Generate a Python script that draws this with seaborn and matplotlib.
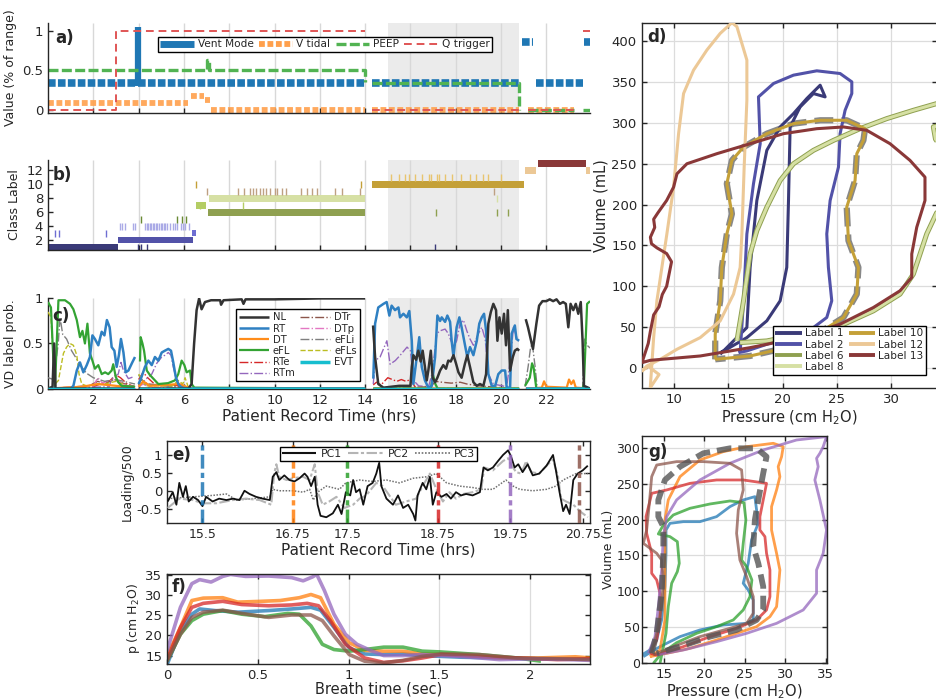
import numpy as np
import matplotlib
matplotlib.use("Agg")
import matplotlib.pyplot as plt
from matplotlib.lines import Line2D
import seaborn as sns

nan = np.nan
G = (nan, nan)  # gap between recording segments

# ---------------- a) ventilator settings (hrs, fraction of range)
a_vent_t = [0, 3.95, nan, 3.99, 14.0, nan, 14.3, 20.8, nan, 20.92, 21.42, nan, 21.55, 23.6, nan, 23.66, 23.93]
a_vent_v = [0.33, 0.33, nan, 0.33, 0.33, nan, 0.33, 0.33, nan, 0.85, 0.85, nan, 0.33, 0.33, nan, 0.85, 0.85]
a_vent_spike_t = [3.96, 3.96]
a_vent_spike_v = [0.3, 1.04]
a_vtid_t = [0, 6.2, nan, 6.3, 6.9, nan, 6.95, 7.15, nan, 7.2, 14.0, nan, 14.3, 20.8, nan, 21.2, 23.2]
a_vtid_v = [0.08, 0.08, nan, 0.17, 0.17, nan, 0.12, 0.12, nan, 0, 0, nan, 0, 0, nan, 0, 0]
a_peep_t = [0, 7.03, 7.03, 7.09, 7.09, 14.0, 14.0, nan, 14.3, 20.8, 20.8, nan, 21.2, 23.2, nan, 23.6, 23.93]
a_peep_v = [0.5, 0.5, 0.63, 0.63, 0.5, 0.5, 0.35, nan, 0.33, 0.33, 0.0, nan, 0, 0, nan, 0, 0]
a_qtrig_t = [0, 2.99, 2.99, 14.0, nan, 14.3, 20.8, nan, 21.2, 23.2, nan, 23.62, 23.93]
a_qtrig_v = [0, 0, 1, 1, nan, 0, 0, nan, 0, 0, nan, 1, 1]

shade_window = (15.0, 20.8)

# ---------------- b) class labels
label_colors = {1: "#3a3a78", 2: "#5252a8", 3: "#6e6ed2", 4: "#aaaae6", 5: "#6a8a34",
                6: "#8fa050", 7: "#b4cd64", 8: "#d6e0a4", 9: "#bea082", 10: "#c4a038",
                11: "#e8c46e", 12: "#ecc896", 13: "#8a3838"}
b_bar_label = [1, 2, 3, 7, 8, 6, 10, 12, 13, 12]
b_bar_start = [0.0, 3.08, 6.36, 6.53, 7.1, 7.05, 14.3, 21.07, 21.61, 23.76]
b_bar_end = [3.08, 6.39, 6.53, 6.98, 14.0, 14.0, 21.0, 21.54, 23.76, 23.93]
b_ticks_1 = [3.98, 4.1, 4.37, 17.1]
b_ticks_3 = [0.3, 0.5, 2.54]
b_ticks_4 = [3.17, 3.27, 3.39, 3.73, 3.85, 4.29, 4.36, 4.42, 4.49, 4.56, 4.63, 4.69, 4.76, 4.83,
             4.9, 4.97, 5.03, 5.1, 5.17, 5.27, 5.37, 5.51, 5.61, 5.71, 5.85, 5.95, 6.05, 6.22]
b_ticks_5 = [4.12, 5.71, 5.93, 6.1]
b_ticks_6 = [17.12, 19.83, 20.31]
b_ticks_7 = [6.69, 8.61]
b_ticks_8 = [19.83]
b_ticks_9 = [7.03, 8.39, 8.64, 8.93, 9.07, 9.2, 9.36, 9.49, 9.63, 9.78, 10.02, 10.12, 10.34,
             10.51, 11.19, 11.44, 11.66, 11.86, 12.68, 12.97, 13.78, 19.69]
b_ticks_10 = [6.53, 13.8]
b_ticks_11 = [15.14, 15.51, 15.76, 15.93, 16.22, 16.53, 16.81, 16.9, 17.17, 17.24, 17.54,
              17.85, 18.22, 18.64, 18.9, 19.2, 19.41, 20.0]

# ---------------- c) VD label probabilities (hrs, prob)
c_nl = [(0, 0), (0.2, 0.02), (0.27, 0.5), (0.33, 0.0), (3.8, 0.0), G, (4.0, 0.0), (6.2, 0.0),
        (6.34, 0.05), (6.45, 0.5), (6.56, 0.87), (6.67, 1.0), (6.78, 0.88), (6.93, 0.96), (7.2, 0.98),
        (7.6, 0.98), (7.64, 0.93), (7.75, 0.98), (8.55, 0.99), (8.63, 0.94), (8.72, 0.99), (10, 0.99),
        (12, 1.0), (14, 1.0), G, (14.35, 0.7), (14.44, 0.35), (14.58, 0.05), (14.81, 0.01), (15.5, 0.03),
        (16.0, 0.03), (16.06, 0.24), (16.13, 0.37), (16.25, 0.32), (16.35, 0.42), (16.45, 0.3),
        (16.54, 0.42), (16.64, 0.24), (16.72, 0.09), (16.79, 0.2), (16.9, 0.42), (16.98, 0.12),
        (17.09, 0.07), (17.19, 0.12), (17.31, 0.2), (17.45, 0.26), (17.57, 0.22), (17.67, 0.31),
        (17.78, 0.3), (17.9, 0.37), (18.01, 0.28), (18.12, 0.18), (18.26, 0.12), (18.41, 0.28),
        (18.51, 0.37), (18.63, 0.24), (18.78, 0.07), (18.93, 0.03), (19.07, 0.05), (19.22, 0.03),
        (19.34, 0.16), (19.44, 0.72), (19.55, 0.85), (19.66, 0.94), (19.78, 0.87), (19.84, 0.53),
        (19.93, 0.79), (20.03, 0.61), (20.13, 0.83), (20.22, 0.48), (20.3, 0.87), (20.4, 0.2),
        (20.52, 0.35), (20.61, 0.42), (20.72, 0.44), (20.8, 0.42), G, (21.09, 0.77), (21.19, 0.68),
        (21.29, 0.57), (21.41, 0.44), (21.56, 0.72), (21.68, 0.92), (21.83, 0.97), (22.0, 0.97),
        (22.15, 0.99), (22.3, 0.97), (22.45, 0.99), (22.6, 0.94), (22.74, 0.96), (22.86, 0.94),
        (22.97, 0.68), (23.07, 0.94), (23.19, 0.87), (23.3, 0.94), (23.41, 0.83), (23.52, 0.96),
        (23.6, 0.53), (23.66, 0.03), (23.93, 0.0)]
c_rt = [(0, 0), (1.0, 0.0), (1.12, 0.03), (1.27, 0.2), (1.41, 0.29), (1.56, 0.18), (1.71, 0.26),
        (1.85, 0.35), (1.96, 0.59), (2.07, 0.55), (2.22, 0.48), (2.37, 0.63), (2.49, 0.59), (2.6, 0.76),
        (2.72, 0.68), (2.81, 0.46), (2.93, 0.42), (3.03, 0.24), (3.13, 0.37), (3.22, 0.55), (3.33, 0.4),
        (3.43, 0.18), (3.55, 0.2), (3.72, 0.29), (3.84, 0.35), G, (4.0, 0.05), (4.13, 0.13), (4.28, 0.24),
        (4.43, 0.31), (4.58, 0.26), (4.72, 0.35), (4.87, 0.31), (5.02, 0.4), (5.16, 0.42), (5.31, 0.44),
        (5.43, 0.42), (5.53, 0.29), (5.64, 0.13), (5.75, 0.05), (5.9, 0.01), (6.2, 0.0), (14, 0.0), G,
        (14.36, 0.11), (14.44, 0.72), (14.58, 0.9), (14.81, 0.94), (14.95, 0.96), (15.07, 0.81),
        (15.17, 0.92), (15.32, 0.87), (15.47, 0.9), (15.54, 0.79), (15.69, 0.83), (15.84, 0.79),
        (15.95, 0.86), (16.06, 0.53), (16.13, 0.05), (16.28, 0.35), (16.39, 0.57), (16.5, 0.24),
        (16.64, 0.09), (16.79, 0.01), (16.94, 0.03), (17.09, 0.35), (17.19, 0.81), (17.31, 0.75),
        (17.38, 0.79), (17.53, 0.74), (17.63, 0.81), (17.75, 0.74), (17.82, 0.53), (17.9, 0.35),
        (18.04, 0.68), (18.16, 0.79), (18.26, 0.68), (18.41, 0.48), (18.51, 0.35), (18.63, 0.46),
        (18.78, 0.37), (18.93, 0.53), (19.04, 0.72), (19.15, 0.79), (19.25, 0.83), (19.34, 0.64),
        (19.44, 0.16), (19.59, 0.03), (19.74, 0.03), (19.88, 0.16), (20.03, 0.2), (20.18, 0.2),
        (20.25, 0.01), (20.4, 0.01), (20.47, 0.61), (20.61, 0.7), (20.68, 0.55), (20.8, 0.53), G,
        (21.1, 0.0), (23.93, 0.0)]
c_dt = [(0, 0), (1.5, 0.02), (2.2, 0.05), (3.0, 0.03), (3.84, 0.01), G, (4.0, 0.02), (4.2, 0.08),
        (4.5, 0.03), (5.8, 0.05), (6.3, 0), (14, 0), G, (14.36, 0), (20.8, 0), G, (21.1, 0), (21.8, 0.01),
        (21.9, 0.08), (22.0, 0.02), (22.9, 0.01), (23.0, 0.1), (23.1, 0.05), (23.2, 0.09), (23.3, 0.01),
        (23.93, 0)]
c_efl = [(0, 0.96), (0.13, 0.9), (0.23, 0.35), (0.31, 0.03), (0.4, 0.6), (0.46, 0.98), (0.75, 0.98),
         (0.97, 0.94), (1.12, 0.88), (1.27, 0.76), (1.41, 0.57), (1.52, 0.64), (1.63, 0.5), (1.74, 0.72),
         (1.85, 0.39), (1.96, 0.31), (2.07, 0.22), (2.22, 0.26), (2.37, 0.16), (2.52, 0.18), (2.66, 0.16),
         (2.81, 0.2), (2.88, 0.27), (2.99, 0.13), (3.1, 0.07), (3.25, 0.03), (3.84, 0.02), G, (4.06, 0.3),
         (4.09, 0.57), (4.17, 0.5), (4.24, 0.42), (4.36, 0.2), (4.5, 0.15), (4.87, 0.05), (5.3, 0.06),
         (5.6, 0.09), (5.75, 0.16), (5.9, 0.31), (6.02, 0.26), (6.12, 0.18), (6.27, 0.2), (6.34, 0.05),
         (6.46, 0.01), (14, 0.0), G, (14.36, 0.0), (16.9, 0.0), (17.0, 0.15), (17.1, 0.05), (17.2, 0.0),
         (20.8, 0.0), G, (21.06, 0.03), (21.27, 0.12), (21.37, 0.28), (21.44, 0.23), (21.56, 0.0),
         (23.6, 0.0), (23.66, 0.05), (23.8, 0.94), (23.93, 0.97)]
c_rte = [(0, 0), (1.8, 0.0), (2.0, 0.02), (2.3, 0.05), (2.7, 0.08), (3.0, 0.15), (3.2, 0.12),
         (3.5, 0.05), (3.84, 0.02), G, (4.0, 0.1), (4.2, 0.18), (4.4, 0.12), (4.7, 0.05), (5.0, 0.03),
         (5.5, 0.04), (6.0, 0.02), (6.3, 0), (14, 0), G, (14.36, 0.04), (14.5, 0.07), (14.7, 0.04),
         (15.0, 0.12), (15.2, 0.1), (15.4, 0.08), (15.6, 0.1), (15.8, 0.08), (16.0, 0.1), (16.2, 0.02),
         (16.4, 0), (20.8, 0), G, (21.1, 0), (23.93, 0)]
c_rtm = [(0, 0), (2.7, 0.02), (2.81, 0.11), (3.1, 0.16), (3.22, 0.29), (3.33, 0.2), (3.55, 0.11),
         (3.77, 0.13), G, (4.0, 0.02), (4.3, 0.1), (4.58, 0.16), (4.8, 0.28), (5.02, 0.35), (5.16, 0.37),
         (5.31, 0.4), (5.43, 0.37), (5.53, 0.24), (5.68, 0.09), (5.9, 0.01), (14, 0), G, (14.36, 0.05),
         (14.44, 0.31), (14.66, 0.35), (14.96, 0.53), (15.1, 0.27), (15.33, 0.31), (15.55, 0.37),
         (15.85, 0.46), (16.0, 0.42), (16.14, 0.09), (16.36, 0.03), (16.8, 0.02), (16.95, 0.16),
         (17.17, 0.61), (17.3, 0.64), (17.53, 0.66), (17.67, 0.61), (17.9, 0.46), (18.04, 0.53),
         (18.19, 0.72), (18.34, 0.76), (18.49, 0.64), (18.63, 0.55), (18.78, 0.48), (19.0, 0.61),
         (19.15, 0.68), (19.3, 0.55), (19.44, 0.16), (19.66, 0.05), (20.25, 0.02), (20.4, 0.3),
         (20.55, 0.68), (20.69, 0.57), (20.8, 0.51), G, (21.1, 0), (23.93, 0)]
c_dtr = [(0, 0), (1.8, 0.03), (2.2, 0.08), (2.5, 0.05), (2.9, 0.1), (3.3, 0.06), (3.84, 0.02), G,
         (4.0, 0.04), (4.1, 0.1), (4.4, 0.05), (5.5, 0.03), (6.0, 0.02), (6.3, 0), (14, 0), G, (14.36, 0),
         (16.9, 0.02), (17.1, 0.08), (17.4, 0.07), (17.8, 0.06), (18.2, 0.07), (18.5, 0.05), (19.0, 0.03),
         (19.5, 0.02), (20.0, 0.01), (20.8, 0), G, (21.1, 0), (23.93, 0)]
c_dtp = [(0, 0), (2.0, 0.03), (2.2, 0.12), (2.4, 0.06), (2.6, 0.08), (3.0, 0.1), (3.4, 0.04),
         (3.84, 0.02), G, (4.0, 0.02), (4.2, 0.05), (4.5, 0.01), (14, 0), G, (14.36, 0), (20.8, 0), G,
         (21.1, 0), (23.93, 0)]
c_efli = [(0, 0.12), (0.25, 0.1), (0.45, 0.5), (0.53, 0.79), (0.65, 0.6), (0.82, 0.55), (1.04, 0.42),
          (1.26, 0.33), (1.48, 0.24), (1.7, 0.17), (2.0, 0.12), (2.5, 0.08), (3.0, 0.1), (3.84, 0.05), G,
          (4.0, 0.15), (4.3, 0.05), (6.3, 0.0), (14, 0.0), G, (14.36, 0.0), (20.8, 0.0), G, (21.06, 0.02),
          (21.2, 0.25), (21.3, 0.45), (21.38, 0.5), (21.5, 0.25), (21.6, 0.0), (23.6, 0.0), (23.7, 0.55),
          (23.8, 0.48), (23.93, 0.45)]
c_efls = [(0, 0.85), (0.13, 0.79), (0.23, 0.35), (0.31, 0.05), (0.46, 0.09), (0.57, 0.24), (0.68, 0.39),
          (0.82, 0.46), (0.97, 0.5), (1.12, 0.48), (1.27, 0.37), (1.37, 0.16), (1.49, 0.05), (1.7, 0.03),
          (2.5, 0.05), (3.0, 0.08), (3.5, 0.03), (3.84, 0.02), G, (4.0, 0.16), (4.15, 0.1), (4.3, 0.03),
          (5.5, 0.03), (5.75, 0.09), (5.95, 0.05), (6.05, 0.12), (6.2, 0.01), (14, 0), G, (14.36, 0),
          (20.8, 0), G, (21.1, 0), (23.93, 0)]
c_evt = [(0, 0), (3.84, 0), G, (4.0, 0), (14, 0), G, (14.36, 0), (20.8, 0), G, (21.1, 0), (23.93, 0)]

# ---------------- d) PV loops per label (cm H2O, mL)
d_label1 = [(14.24, 16.8), (16.7, 49.5), (17.0, 123.1), (17.62, 204.9), (18.54, 266.3), (19.77, 294.9),
            (21.0, 311.2), (22.23, 329.7), (23.46, 346), (23.92, 331.7), (22.84, 335.8), (21.61, 319.4),
            (20.69, 294.9), (20.54, 204.9), (20.38, 123.1), (19.77, 82.2), (18.54, 57.7), (16.7, 37.2),
            (14.85, 22.9), (14.24, 18.8)]
d_label2 = [(16.08, 18.8), (16.39, 82.2), (16.7, 164), (17.31, 225.4), (17.93, 274.4), (17.77, 331.7),
            (19.16, 348.1), (21.0, 358.3), (23.15, 363.6), (25.3, 360.3), (26.38, 350.1), (26.38, 335.8),
            (25.76, 315.3), (25.3, 286.7), (25.15, 245.8), (24.38, 204.9), (24.07, 164), (24.22, 123.1),
            (24.53, 82.2), (24.07, 61.8), (22.84, 49.5), (20.38, 37.2), (18.54, 29), (16.7, 20.9),
            (15.93, 18.8)]
d_label8 = [(15.78, 33.1), (16.39, 82.2), (17.0, 139.5), (17.62, 168.1), (18.54, 196.7), (19.77, 229.4),
            (21.0, 249.9), (22.84, 266.3), (24.69, 278.5), (27.14, 292.8), (29.6, 305.1), (32.06, 315.3),
            (34.21, 323.5), (35.5, 326), (35.5, 300), (33.9, 295), (34.1, 280), (35.5, 255), (35.5, 200),
            (34.21, 190), (33.29, 164), (32.06, 114.9), (30.83, 90.4), (28.37, 69.9), (25.3, 51.5),
            (21.61, 41.3), (18.54, 33.1), (16.08, 31.1)]
d_label10 = [(13.78, 10.6), (13.78, 41.3), (14.24, 82.2), (14.39, 123.1), (14.85, 164), (15.32, 188.5),
             (14.85, 225.4), (15.32, 254), (16.39, 270.3), (18.54, 286.7), (21.0, 299), (23.46, 303.1),
             (25.91, 303.1), (27.6, 292.8), (27.45, 278.5), (26.84, 262.2), (26.68, 229.4), (25.91, 196.7),
             (26.07, 155.8), (26.99, 123.1), (26.84, 90.4), (25.61, 61.8), (23.15, 41.3), (20.38, 24.9),
             (17.0, 14.7), (13.78, 10.6)]
d_label12 = [(7.79, -24.1), (8.1, 37.2), (8.4, 82.2), (8.86, 123.1), (9.32, 164), (9.94, 221.3),
             (10.4, 286.7), (10.86, 335.8), (11.78, 364.4), (13.01, 389), (14.24, 409.4), (15.32, 422.5),
             (15.78, 417.6), (16.24, 397.1), (16.7, 376.7), (16.7, 327.6), (16.45, 245.8), (16.24, 164),
             (16.08, 123.1), (15.47, 90.4), (14.24, 57.7), (12.4, 37.2), (10.25, 22.9), (8.71, 10.6),
             (7.48, 2.5), (7.02, -3.7), (7.6, 2), (8.6, -8), (7.79, -24.1)]
d_label13 = [(7.02, 6.5), (7.6, 30), (7.8, 45), (8.1, 65), (8.6, 75), (8.9, 90), (9.3, 100), (9.6, 120),
             (9.75, 130), (9.3, 140), (8.4, 147), (7.9, 152), (7.8, 160), (8.2, 172), (8.1, 182),
             (8.5, 190), (9.3, 205), (9.94, 221.3), (10.25, 237.6), (11.17, 249.9), (13.93, 262.2),
             (17.0, 274.4), (20.08, 286.7), (23.15, 292.8), (25.61, 294.9), (27.76, 290.8), (29.91, 274.4),
             (31.75, 254), (33.13, 233.5), (33.13, 204.9), (32.37, 172.2), (31.91, 139.5), (31.91, 110.8),
             (30.83, 94.5), (28.37, 74), (25.3, 53.6), (21.61, 37.2), (17.0, 24.9), (12.4, 14.7),
             (7.79, 9.4), (7.02, 6.5)]

# ---------------- e) principal component loadings (hrs, loading/500)
e_pc1 = [(15.02, -0.3), (15.09, -0.04), (15.14, -0.39), (15.18, 0.22), (15.23, -0.17), (15.27, 0.13),
         (15.31, -0.3), (15.37, -0.17), (15.44, -0.26), (15.5, -0.43), (15.55, -0.17), (15.64, -0.3),
         (15.73, -0.22), (15.83, -0.26), (15.92, -0.22), (16.01, -0.26), (16.08, 0.0), (16.15, -0.09),
         (16.24, -0.17), (16.33, -0.22), (16.43, -0.26), (16.47, 0.39), (16.52, 0.52), (16.56, 0.3),
         (16.63, 0.43), (16.7, 0.3), (16.77, 0.26), (16.84, 0.35), (16.91, 0.48), (16.95, 0.39),
         (17.0, 0.13), (17.05, 0.39), (17.09, -0.39), (17.13, -0.7), (17.21, -0.74), (17.3, -0.63),
         (17.37, -0.39), (17.42, -0.65), (17.48, -0.04), (17.54, -0.13), (17.58, 0.3), (17.62, -0.04),
         (17.67, 0.04), (17.72, -0.39), (17.78, 0.13), (17.85, 0.22), (17.9, 0.48), (17.94, 0.78),
         (17.97, 0.13), (18.04, -0.22), (18.13, -0.39), (18.2, -0.13), (18.27, -0.48), (18.34, -0.39),
         (18.41, -0.65), (18.44, -0.83), (18.47, -0.13), (18.54, 0.22), (18.59, 0.04), (18.64, 0.39),
         (18.68, -0.39), (18.73, -0.04), (18.8, -0.17), (18.87, -0.09), (18.93, -0.22), (19.0, -0.04),
         (19.07, -0.13), (19.14, -0.09), (19.23, -0.13), (19.33, -0.04), (19.38, 0.65), (19.44, 0.57),
         (19.51, 0.65), (19.58, 0.83), (19.65, 1.0), (19.72, 1.13), (19.76, 0.96), (19.81, 0.65),
         (19.86, 0.74), (19.92, 0.52), (19.99, 0.74), (20.06, 0.43), (20.15, 0.48), (20.25, 0.7),
         (20.34, 1.0), (20.38, 0.57), (20.43, -0.04), (20.48, -0.57), (20.52, -0.39), (20.57, -0.65),
         (20.62, 0.3), (20.68, 0.48), (20.75, 0.57), (20.82, 0.7)]
e_pc2 = [(15.02, -0.48), (15.18, -0.22), (15.37, -0.26), (15.5, -0.35), (15.69, -0.35), (15.92, -0.26),
         (16.1, -0.22), (16.29, -0.26), (16.45, -0.39), (16.49, 0.48), (16.52, 0.74), (16.56, 0.39),
         (16.66, 0.3), (16.75, 0.35), (16.89, 0.39), (16.98, 0.3), (17.05, 0.74), (17.09, -0.04),
         (17.16, -0.39), (17.25, -0.3), (17.35, -0.17), (17.46, -0.48), (17.58, -0.39), (17.67, -0.22),
         (17.76, -0.13), (17.9, 0.22), (17.99, 0.13), (18.08, -0.13), (18.17, -0.39), (18.31, -0.3),
         (18.45, -0.22), (18.54, 0.13), (18.64, 0.48), (18.73, 0.04), (18.82, -0.3), (18.91, -0.04),
         (19.0, -0.22), (19.1, -0.09), (19.23, -0.04), (19.35, 0.04), (19.39, 0.65), (19.51, 0.57),
         (19.65, 0.83), (19.72, 0.91), (19.76, 0.74), (19.83, 0.52), (19.9, 0.48), (19.97, 0.83),
         (20.04, 0.52), (20.15, 0.48), (20.27, 0.74), (20.34, 0.87), (20.41, 0.39), (20.45, -0.22),
         (20.52, -0.3), (20.62, -0.39), (20.71, -0.57), (20.82, -0.74)]
e_pc3 = [(15.02, -0.22), (15.37, -0.17), (15.64, -0.13), (15.83, -0.09), (15.97, -0.26), (16.2, -0.22),
         (16.43, -0.17), (16.47, 0.04), (16.56, 0.0), (16.75, 0.0), (16.89, -0.04), (16.98, 0.04),
         (17.03, -0.26), (17.09, -0.04), (17.21, 0.13), (17.39, 0.04), (17.48, 0.22), (17.67, 0.3),
         (17.85, 0.26), (18.04, 0.3), (18.22, 0.22), (18.41, 0.35), (18.59, 0.39), (18.73, 0.48),
         (18.87, 0.22), (19.05, 0.13), (19.23, 0.09), (19.37, 0.04), (19.51, 0.04), (19.69, 0.3),
         (19.79, 0.13), (19.88, 0.04), (20.06, 0.0), (20.25, 0.04), (20.38, 0.13), (20.48, 0.3),
         (20.66, 0.48), (20.82, 0.48)]
event_times = [15.5, 16.75, 17.5, 18.75, 19.75, 20.7]
event_colors = ["#1f77b4", "#ff7f0e", "#2ca02c", "#d62728", "#9467bd", "#8c564b"]
e_tick_labels = ["15.5", "16.75", "17.5", "18.75", "19.75", "20.75"]

# ---------------- f) pressure per selected breath (sec, cm H2O)
f_blue = [(0, 12.7), (0.074, 21.1), (0.137, 25.3), (0.18, 26.6), (0.264, 26.2), (0.39, 25.8), (0.56, 26.2),
          (0.687, 26.6), (0.793, 27), (0.846, 26.3), (0.92, 22), (1.004, 16.9), (1.089, 15.4),
          (1.194, 15.25), (1.3, 15.4), (1.406, 15.0), (1.617, 14.6), (1.83, 14.4), (2.04, 14.2), (2.336, 14.2)]
f_orange = [(0, 14.8), (0.074, 22), (0.137, 28.7), (0.2, 29.3), (0.307, 29.4), (0.39, 28.3), (0.518, 28.5),
            (0.624, 28.7), (0.729, 29.4), (0.793, 30.2), (0.846, 29.4), (0.92, 22.8), (1.004, 18.2),
            (1.089, 16.3), (1.194, 16.1), (1.3, 16.1), (1.406, 15.4), (1.617, 15.25), (1.83, 14.4),
            (2.04, 14.4), (2.25, 14.7), (2.336, 14.4)]
f_green = [(0, 13.6), (0.074, 20.3), (0.137, 23.7), (0.2, 25.3), (0.307, 26.2), (0.412, 25.3), (0.539, 24.7),
           (0.666, 25.5), (0.729, 25.3), (0.793, 22.4), (0.856, 17.8), (0.92, 16.5), (1.004, 16.1),
           (1.089, 16.5), (1.194, 17.1), (1.3, 17.1), (1.406, 16.1), (1.51, 15.9), (1.72, 15.25),
           (1.93, 14.4), (2.06, 13.6)]
f_red = [(0, 14), (0.074, 22), (0.137, 27), (0.2, 28), (0.307, 28.5), (0.412, 27.7), (0.56, 27.4),
         (0.687, 27.6), (0.772, 28), (0.835, 27.4), (0.9, 23.7), (0.983, 17.8), (1.089, 14.4), (1.194, 13.3),
         (1.3, 13.7), (1.406, 14.4), (1.51, 15.25), (1.72, 14.8), (1.93, 14.4), (2.15, 14), (2.336, 14.2)]
f_purple = [(0, 16.1), (0.074, 27), (0.137, 32.9), (0.18, 33.9), (0.243, 33.3), (0.307, 34.7), (0.35, 35.2),
            (0.433, 34.7), (0.56, 34.8), (0.687, 34.4), (0.75, 33.6), (0.803, 34.6), (0.825, 35.2),
            (0.867, 31.2), (0.92, 25.3), (0.983, 20.3), (1.047, 17.8), (1.131, 16.1), (1.194, 15.0),
            (1.3, 15.0), (1.406, 15.25), (1.617, 14.8), (1.83, 14.0), (2.04, 14.2), (2.21, 14.0), (2.336, 13.8)]
f_brown = [(0, 13.6), (0.074, 20.3), (0.137, 24.5), (0.2, 25.8), (0.307, 26.3), (0.412, 25.5), (0.56, 24.5),
           (0.687, 25.1), (0.793, 25.1), (0.856, 23.7), (0.92, 19.9), (1.004, 15.25), (1.089, 13.6),
           (1.194, 13.2), (1.3, 13.8), (1.406, 14.8), (1.51, 15.4), (1.72, 15.25), (1.93, 14.4),
           (2.15, 14.2), (2.336, 14)]

# ---------------- g) PV loops of the same breaths (cm H2O, mL)
g_blue = [(12.24, 11.6), (13.27, 18.5), (14.1, 32.5), (14.71, 60.3), (15.12, 106.6), (15.25, 153),
          (15.25, 185.4), (15.74, 194.7), (17.39, 197), (19.44, 197), (21.5, 204), (23.15, 217.9),
          (24.79, 227.2), (26.23, 231.8), (26.44, 213.3), (26.65, 194.7), (25.82, 171.5), (25.41, 139.1),
          (24.79, 111.3), (25.41, 102), (26.03, 88.1), (26.03, 60.3), (25.21, 55.6), (22.33, 53.3),
          (19.44, 46.4), (16.98, 37.1), (14.51, 23.2), (12.45, 9.3)]
g_orange = [(13.27, 9.3), (14.51, 18.5), (15.12, 60.3), (15.12, 106.6), (15.12, 153), (15.12, 199.4),
            (15.53, 227.2), (16.98, 259.6), (19.44, 282.8), (22.33, 294.4), (25.21, 301.3), (28.5, 306),
            (29.73, 301.3), (29.53, 287.4), (29.11, 273.5), (29.32, 259.6), (28.91, 241.1), (28.29, 217.9),
            (28.29, 185.4), (28.91, 153), (29.32, 129.8), (29.11, 102), (28.91, 78.8), (28.09, 64.9),
            (26.44, 51), (23.97, 41.7), (21.5, 32.5), (18.21, 20.9), (15.33, 13.9), (13.27, 9.3)]
g_green = [(14.51, 0), (15.25, 41.7), (15.53, 78.8), (15.95, 111.3), (16.65, 127.5), (16.89, 139.1),
           (16.65, 169.2), (15.74, 176.2), (14.3, 179.9), (14.92, 192.4), (16.15, 206.3), (18.21, 215.6),
           (20.68, 221.6), (23.15, 225.8), (24.88, 223.5), (25.12, 199.4), (24.79, 166.9), (24.59, 143.7),
           (25.21, 134.4), (25.86, 115.9), (25.62, 92.7), (24.79, 74.2), (23.56, 60.3), (21.5, 51),
           (19.03, 41.7), (16.56, 28.7), (14.71, 13.9), (13.68, 0)]
g_red = [(13.27, 13.9), (14.1, 32.5), (14.51, 60.3), (14.51, 97.4), (14.1, 115.9), (13.48, 125.2),
         (13.48, 153), (12.86, 180.8), (12.78, 204), (13.19, 222.5), (13.48, 236.4), (15.33, 241.1),
         (18.21, 250.3), (21.5, 255), (24.79, 255), (27.67, 250.3), (27.26, 227.2), (26.85, 204),
         (26.85, 185.4), (27.47, 176.2), (27.67, 153), (28.09, 129.8), (28.09, 92.7), (27.67, 74.2),
         (26.44, 60.3), (23.97, 48.7), (20.68, 37.1), (17.39, 23.2), (14.1, 11.6), (13.27, 13.9)]
g_purple = [(13.07, 13.9), (13.89, 37.1), (14.3, 78.8), (14.71, 129.8), (14.92, 176.2), (15.33, 204),
            (16.56, 227.2), (19.44, 255), (23.15, 278.2), (27.26, 296.7), (31.38, 310.6), (35.08, 315.3),
            (34.67, 301.3), (34.26, 292.1), (33.85, 285.1), (34.05, 273.5), (33.64, 255), (34.26, 227.2),
            (35.08, 185.4), (34.67, 153), (33.85, 129.8), (33.85, 97.4), (32.2, 74.2), (28.91, 55.6),
            (25.21, 41.7), (21.5, 30.1), (17.39, 18.5), (14.1, 11.6)]
g_brown = [(13.48, 13.9), (14.1, 41.7), (14.71, 78.8), (14.92, 115.9), (14.71, 143.7), (14.1, 153),
           (12.45, 166.9), (12.86, 185.4), (13.19, 222.5), (13.48, 259.6), (14.1, 275.8), (16.56, 280.5),
           (19.86, 280.5), (23.15, 278.2), (24.59, 268.9), (24.79, 241.1), (24.18, 213.3), (23.97, 180.8),
           (24.38, 143.7), (25.21, 120.5), (26.03, 92.7), (26.03, 69.5), (25.21, 55.6), (23.15, 48.7),
           (19.44, 37.1), (16.15, 23.2), (13.68, 11.6)]
g_mean = [(13.48, 13.9), (14.1, 41.7), (14.71, 97.4), (14.92, 153), (14.92, 190.1), (14.3, 204),
          (14.3, 227.2), (15.12, 255), (16.98, 273.5), (19.86, 292.1), (23.15, 299), (26.44, 299),
          (27.67, 287.4), (27.26, 264.3), (26.65, 227.2), (26.23, 199.4), (26.03, 162.3), (26.65, 139.1),
          (27.26, 106.6), (27.26, 74.2), (26.44, 60.3), (23.97, 46.4), (20.68, 37.1), (16.98, 23.2),
          (14.1, 13.9)]


def xy(pairs):
    arr = np.array(pairs, dtype=float)
    return arr[:, 0], arr[:, 1]


def boxed(leg):
    leg.get_frame().set_edgecolor("black")
    leg.get_frame().set_linewidth(1.0)
    leg.set_zorder(10)


sns.set_theme(style="white")
plt.rcParams.update({
    "font.family": ["DejaVu Sans"],
    "xtick.direction": "in", "ytick.direction": "in",
    "xtick.bottom": True, "ytick.left": True,
    "xtick.major.size": 3.5, "ytick.major.size": 3.5,
    "xtick.major.width": 1.0, "ytick.major.width": 1.0,
    "xtick.color": "#262626", "ytick.color": "#262626",
    "axes.edgecolor": "#262626", "axes.linewidth": 1.0,
    "axes.labelcolor": "#262626",
    "xtick.labelsize": 9.5, "ytick.labelsize": 9.5, "axes.labelsize": 9.5,
    "grid.color": "#dcdcdc", "grid.linewidth": 0.9,
    "lines.solid_capstyle": "butt", "lines.dash_capstyle": "butt",
    "legend.fontsize": 7.5,
})

fig = plt.figure(figsize=(9.36, 7.0), dpi=100)
ax_a = fig.add_axes([0.0513, 0.839, 0.5791, 0.1286])
ax_b = fig.add_axes([0.0513, 0.643, 0.5791, 0.1286])
ax_c = fig.add_axes([0.0513, 0.4443, 0.5791, 0.13])
ax_d = fig.add_axes([0.6856, 0.4457, 0.3156, 0.5219])
ax_e = fig.add_axes([0.1784, 0.2529, 0.4519, 0.1171])
ax_f = fig.add_axes([0.1784, 0.0514, 0.4519, 0.1286])
ax_g = fig.add_axes([0.6856, 0.0524, 0.1976, 0.3251])


def panel_letter(ax, txt, x, y):
    ax.text(x, y, txt, transform=ax.transAxes, fontsize=12, fontweight="bold",
            va="center", ha="left", zorder=10)


hour_ticks = np.arange(2, 23, 2)
for ax in (ax_a, ax_b, ax_c):
    ax.axvspan(*shade_window, color="#ebebeb", zorder=0.2, lw=0)
    ax.set_xlim(0, 23.93)
    ax.set_xticks(hour_ticks)
    ax.grid(axis="x", color="#d8d8d8", lw=1.0)
    ax.set_axisbelow(True)
    sns.despine(ax=ax)
ax_a.tick_params(labelbottom=False)
ax_b.tick_params(labelbottom=False)

# a)
ax_a.plot(a_vent_t, a_vent_v, color="#1f77b4", lw=5.5, ls=(0, (1.0, 0.3)))
ax_a.plot(a_vent_spike_t, a_vent_spike_v, color="#1f77b4", lw=4.5)
ax_a.plot(a_vtid_t, a_vtid_v, color="#ffa04c", lw=4.2, ls=(0, (1.0, 0.45)), alpha=0.9)
ax_a.plot(a_peep_t, a_peep_v, color="#52b352", lw=2.4, ls=(0, (3, 1)))
ax_a.plot(a_qtrig_t, a_qtrig_v, color="#e05555", lw=1.4, ls=(0, (4, 2.5)))
ax_a.set_ylim(-0.04, 1.1)
ax_a.set_yticks([0, 0.5, 1])
ax_a.set_yticklabels(["0", "0.5", "1"])
ax_a.set_ylabel("Value (% of range)", fontsize=9)
a_handles = [Line2D([], [], color="#1f77b4", lw=5),
             Line2D([], [], color="#ffa04c", lw=4.2, ls=(0, (1.0, 0.45))),
             Line2D([], [], color="#52b352", lw=2.4, ls=(0, (3, 1))),
             Line2D([], [], color="#e05555", lw=1.4, ls=(0, (4, 2.5)))]
leg = ax_a.legend(a_handles, ["Vent Mode", "V tidal", "PEEP", "Q trigger"], ncol=4, loc="center",
                  bbox_to_anchor=(0.511, 0.758), fancybox=False, framealpha=1, borderpad=0.25,
                  handlelength=3.2, handletextpad=0.35, columnspacing=0.5, fontsize=7.6)
boxed(leg)
panel_letter(ax_a, "a)", 0.013, 0.83)

# b)
ax_b.barh(b_bar_label, np.subtract(b_bar_end, b_bar_start), left=b_bar_start, height=0.95,
          color=[label_colors[k] for k in b_bar_label], lw=0, zorder=2)
b_tick_sets = [(1, b_ticks_1), (3, b_ticks_3), (4, b_ticks_4), (5, b_ticks_5), (6, b_ticks_6),
               (7, b_ticks_7), (8, b_ticks_8), (9, b_ticks_9), (10, b_ticks_10), (11, b_ticks_11)]
for lab, pos in b_tick_sets:
    ax_b.vlines(pos, lab - 0.5, lab + 0.5, colors=label_colors[lab], lw=1.0, zorder=2)
ax_b.set_ylim(0.6, 13.5)
ax_b.set_yticks([2, 4, 6, 8, 10, 12])
ax_b.set_ylabel("Class Label", fontsize=9)
panel_letter(ax_b, "b)", 0.008, 0.83)

# c)
c_series = [("NL", c_nl, "#333333", "-", 1.8, 6), ("RT", c_rt, "#2f80c2", "-", 1.8, 5),
            ("DT", c_dt, "#ff8c1a", "-", 1.6, 4), ("eFL", c_efl, "#33a333", "-", 1.6, 4),
            ("RTe", c_rte, "#d62728", "-.", 1.0, 3), ("RTm", c_rtm, "#9467bd", "-.", 1.0, 3),
            ("DTr", c_dtr, "#8c564b", "-.", 1.0, 3), ("DTp", c_dtp, "#e377c2", "-.", 1.0, 3),
            ("eFLi", c_efli, "#7f7f7f", "-.", 1.0, 3), ("eFLs", c_efls, "#bcbd22", "--", 1.0, 3),
            ("EVT", c_evt, "#17becf", "-", 2.5, 7)]
c_handles = []
for name, pairs, col, ls, lw, z in c_series:
    t, v = xy(pairs)
    h, = ax_c.plot(t, v, color=col, ls=ls, lw=lw, zorder=z, label=name)
    c_handles.append(h)
ax_c.set_ylim(-0.005, 1.005)
ax_c.set_yticks([0, 0.5, 1])
ax_c.set_yticklabels(["0", "0.5", "1"])
ax_c.set_ylabel("VD label prob.", fontsize=9)
ax_c.set_xlabel("Patient Record Time (hrs)", fontsize=11, labelpad=1)
leg = ax_c.legend(handles=c_handles, ncol=2, loc="upper right", bbox_to_anchor=(0.585, 0.93),
                  fancybox=False, framealpha=1, fontsize=7.2, handlelength=3.0, handletextpad=0.4,
                  columnspacing=0.6, borderpad=0.3, labelspacing=0.12)
boxed(leg)
panel_letter(ax_c, "c)", 0.008, 0.8)

# d)
d_series = [("Label 1", d_label1, label_colors[1]), ("Label 2", d_label2, label_colors[2]),
            ("Label 6", d_label8, label_colors[6]), ("Label 8", d_label8, label_colors[8]),
            ("Label 10", d_label10, label_colors[10]), ("Label 12", d_label12, label_colors[12]),
            ("Label 13", d_label13, label_colors[13])]
mt, mv = xy(d_label10)
ax_d.plot(mt, mv, color="#888888", lw=4.5, ls=(0, (3, 1.3)), zorder=2)
d_handles = []
for name, pairs, col in d_series:
    t, v = xy(pairs)
    lw = 3.6 if name == "Label 6" else 2.2
    sns.lineplot(x=t, y=v, sort=False, estimator=None, color=col, lw=lw, ax=ax_d, zorder=3)
    d_handles.append(Line2D([], [], color=col, lw=2.8))
ax_d.set_xlim(7.0, 34.25)
ax_d.set_ylim(-24.5, 422.5)
ax_d.set_xticks([10, 15, 20, 25, 30])
ax_d.set_yticks(np.arange(0, 401, 50))
ax_d.grid(True, color="#dcdcdc")
ax_d.set_axisbelow(True)
ax_d.tick_params(top=True, right=True)
ax_d.set_xlabel("Pressure (cm H$_2$O)", fontsize=10.5, labelpad=2)
ax_d.set_ylabel("Volume (mL)", fontsize=10.5, labelpad=2)
leg = ax_d.legend(d_handles, [s[0] for s in d_series], ncol=2, loc="upper left",
                  bbox_to_anchor=(0.425, 0.185), fancybox=False, framealpha=1, fontsize=7.6,
                  handlelength=2.5, handletextpad=0.3, columnspacing=0.5, borderpad=0.25,
                  labelspacing=0.12)
boxed(leg)
panel_letter(ax_d, "d)", 0.02, 0.962)

# e)
for pairs, col, ls, lw, z, name in [(e_pc3, "#707070", (0, (1, 1)), 1.1, 2, "PC3"),
                                    (e_pc2, "#b5b5b5", (0, (5, 1.2, 1.5, 1.2)), 1.5, 3, "PC2"),
                                    (e_pc1, "#111111", "-", 1.3, 4, "PC1")]:
    t, v = xy(pairs)
    ax_e.plot(t, v, color=col, ls=ls, lw=lw, zorder=z, label=name)
for tm, col in zip(event_times, event_colors):
    ax_e.axvline(tm, color=col, lw=2.5, ls=(0, (4, 1.2, 1.5, 1.2)), alpha=0.85, zorder=5)
ax_e.set_xlim(15.01, 20.85)
ax_e.set_ylim(-0.9, 1.39)
ax_e.set_xticks([15.5, 16.75, 17.5, 18.75, 19.75, 20.75])
ax_e.set_xticklabels(e_tick_labels)
ax_e.set_yticks([-0.5, 0, 0.5, 1])
ax_e.set_yticklabels(["-0.5", "0", "0.5", "1"])
ax_e.tick_params(top=True, right=True)
ax_e.tick_params(axis="x", labelsize=9)
ax_e.set_ylabel("Loading/500", fontsize=9, labelpad=2)
ax_e.set_xlabel("Patient Record Time (hrs)", fontsize=11, labelpad=1)
e_handles = [Line2D([], [], color="#111111", lw=1.5),
             Line2D([], [], color="#b5b5b5", lw=1.5, ls=(0, (5, 1.2, 1.5, 1.2))),
             Line2D([], [], color="#707070", lw=1.2, ls=(0, (1, 1)))]
leg = ax_e.legend(e_handles, ["PC1", "PC2", "PC3"], ncol=3, loc="center", bbox_to_anchor=(0.5, 0.845),
                  fancybox=False, framealpha=1, fontsize=7.8, handlelength=3.2, handletextpad=0.4,
                  columnspacing=0.6, borderpad=0.2)
boxed(leg)
panel_letter(ax_e, "e)", 0.012, 0.83)

# f)
breath_colors = ["#1f77b4", "#ff7f0e", "#2ca02c", "#d62728", "#9467bd", "#8c564b"]
for pairs, col in zip([f_blue, f_orange, f_green, f_red, f_purple, f_brown], breath_colors):
    t, p = xy(pairs)
    sns.lineplot(x=t, y=p, sort=False, estimator=None, color=col, lw=2.6, alpha=0.75, ax=ax_f)
ax_f.set_xlim(0, 2.33)
ax_f.set_ylim(12.9, 35.3)
ax_f.set_xticks([0, 0.5, 1, 1.5, 2])
ax_f.set_xticklabels(["0", "0.5", "1", "1.5", "2"])
ax_f.set_yticks([15, 20, 25, 30, 35])
ax_f.grid(axis="x", color="#dcdcdc")
ax_f.set_axisbelow(True)
ax_f.tick_params(top=True, right=True)
ax_f.set_xlabel("Breath time (sec)", fontsize=10.5, labelpad=0)
ax_f.set_ylabel("p (cm H$_2$O)", fontsize=9, labelpad=2)
panel_letter(ax_f, "f)", 0.012, 0.86)

# g)
gt, gv = xy(g_mean)
for pairs, col in zip([g_blue, g_orange, g_green, g_red, g_purple, g_brown], breath_colors):
    t, v = xy(pairs)
    sns.lineplot(x=t, y=v, sort=False, estimator=None, color=col, lw=2.0, alpha=0.75, ax=ax_g)
ax_g.plot(gt, gv, color="#555555", lw=4.2, ls=(0, (2.5, 1.2)), alpha=0.8, zorder=4)
ax_g.set_xlim(12.25, 35.1)
ax_g.set_ylim(0, 316.5)
ax_g.set_xticks([15, 20, 25, 30, 35])
ax_g.set_yticks(np.arange(0, 301, 50))
ax_g.grid(True, color="#dcdcdc")
ax_g.set_axisbelow(True)
ax_g.tick_params(top=True, right=True)
ax_g.tick_params(axis="y", pad=1, labelsize=9)
ax_g.set_xlabel("Pressure (cm H$_2$O)", fontsize=10.5, labelpad=1)
ax_g.set_ylabel("Volume (mL)", fontsize=9)
ax_g.yaxis.set_label_coords(-0.142, 0.5)
panel_letter(ax_g, "g)", 0.034, 0.93)

fig.savefig("out.png", dpi=100)
